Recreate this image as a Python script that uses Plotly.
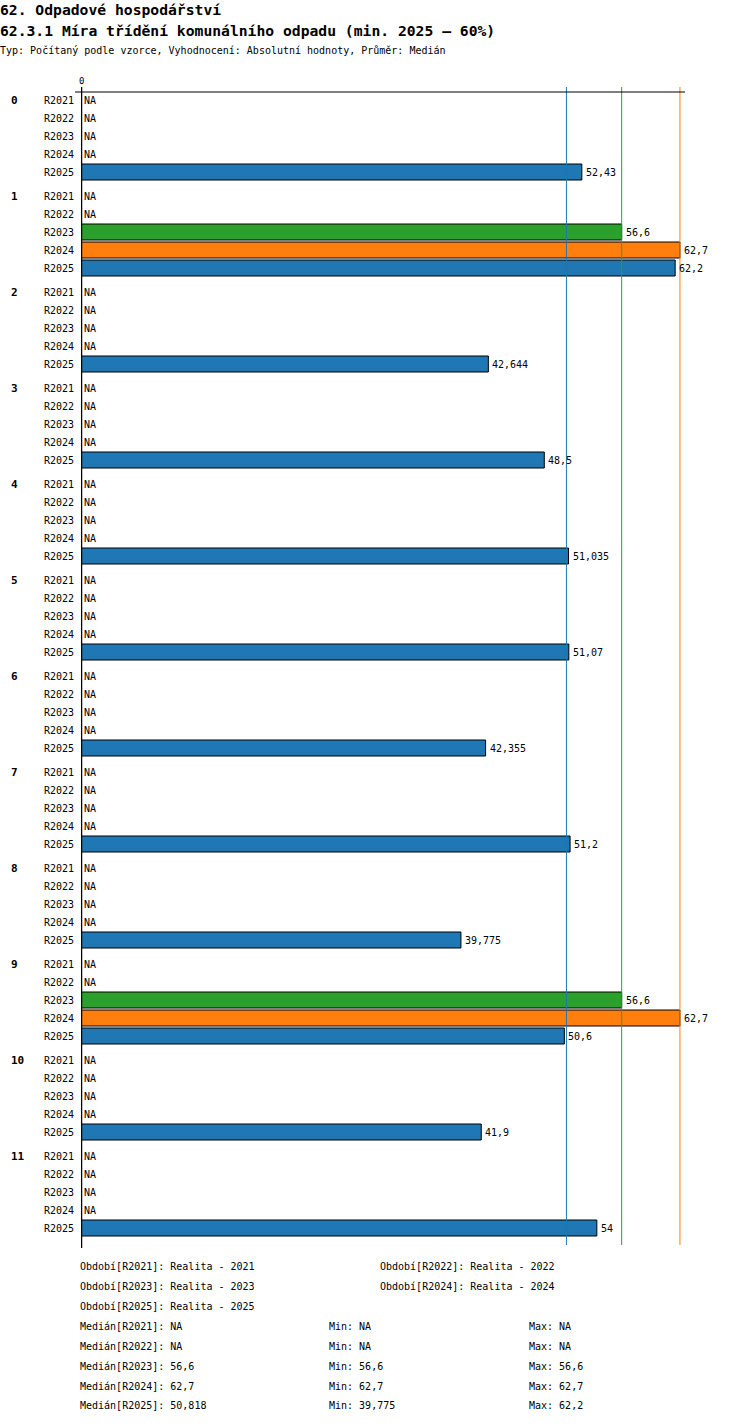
import numpy as np
import plotly.graph_objects as go

nan = float("nan")
groups = [str(i) for i in range(12)]
periods = ["R2021", "R2022", "R2023", "R2024", "R2025"]
period_names = ["Realita - 2021", "Realita - 2022", "Realita - 2023",
                "Realita - 2024", "Realita - 2025"]
colors = ["#1f77b4", "#1f77b4", "#2ca02c", "#ff7f0e", "#1f77b4"]

r2021 = [nan] * 12
r2022 = [nan] * 12
r2023 = [nan, 56.6, nan, nan, nan, nan, nan, nan, nan, 56.6, nan, nan]
r2024 = [nan, 62.7, nan, nan, nan, nan, nan, nan, nan, 62.7, nan, nan]
r2025 = [52.43, 62.2, 42.644, 48.5, 51.035, 51.07, 42.355, 51.2, 39.775, 50.6, 41.9, 54]
series = [r2021, r2022, r2023, r2024, r2025]

title1 = "62. Odpadové hospodářství"
title2 = "62.3.1 Míra třídění komunálního odpadu (min. 2025 – 60%)"
subtitle = "Typ: Počítaný podle vzorce, Vyhodnocení: Absolutní hodnoty, Průměr: Medián"

FONT = "DejaVu Sans Mono"
W, H = 750, 1424
L, T = 81, 92
PW, PH = 604, 1153
R, B = W - L - PW, H - T - PH
XMAX = 63.23


def fmt(v):
    if v is None or np.isnan(v):
        return "NA"
    s = f"{round(v + 1e-9, 3):g}"
    return s.replace(".", ",")


def xp(px):
    return (px - L) / PW


def yp(py):
    return (T + PH - py) / PH


def ypos(g, k):
    return 8 + 96 * g + 18 * k


fig = go.Figure()
annotations = []

for k, (per, vals, col) in enumerate(zip(periods, series, colors)):
    ys = [ypos(g, k) for g in range(len(groups))]
    fig.add_trace(go.Bar(
        x=vals, y=ys, orientation="h", width=16,
        marker=dict(color=col, line=dict(color="black", width=1)),
        name=per, showlegend=False, hoverinfo="skip",
    ))
    for g, v in enumerate(vals):
        y = ypos(g, k)
        annotations.append(dict(
            x=0 if np.isnan(v) else v, y=y, xref="x", yref="y",
            text=fmt(v), showarrow=False, xanchor="left", yanchor="middle",
            xshift=1 if np.isnan(v) else 2, font=dict(family=FONT, size=10, color="black"),
        ))
        annotations.append(dict(
            x=0, y=y, xref="paper", yref="y", text=per, showarrow=False,
            xanchor="right", yanchor="middle", xshift=-5,
            font=dict(family=FONT, size=10, color="black"),
        ))

for g, name in enumerate(groups):
    annotations.append(dict(
        x=xp(9), y=ypos(g, 0), xref="paper", yref="y", text=f"<b>{name}</b>",
        showarrow=False, xanchor="left", yanchor="middle",
        font=dict(family=FONT, size=11, color="black"),
    ))

# zero tick label
annotations.append(dict(x=0, y=1, xref="x", yref="paper", text="0", showarrow=False,
                        xanchor="center", yanchor="bottom", yshift=4,
                        font=dict(family=FONT, size=9, color="black")))

shapes = []
stats = []
for per, vals, col in zip(periods, series, colors):
    arr = np.array(vals, dtype=float)
    if np.all(np.isnan(arr)):
        stats.append((nan, nan, nan))
        continue
    med = float(np.nanmedian(arr))
    stats.append((med, float(np.nanmin(arr)), float(np.nanmax(arr))))
    shapes.append(dict(type="line", xref="x", yref="paper", x0=med, x1=med,
                       y0=0, y1=yp(87), line=dict(color=col, width=1)))

# axis lines
shapes.append(dict(type="line", xref="paper", yref="paper", x0=xp(75), x1=xp(685),
                   y0=1, y1=1, line=dict(color="black", width=1)))
shapes.append(dict(type="line", xref="x", yref="paper", x0=0, x1=0,
                   y0=yp(1248), y1=yp(87), line=dict(color="black", width=2.5)))

# titles
for txt, py, size in [(f"<b>{title1}</b>", 10, 14.7), (f"<b>{title2}</b>", 30, 14.7),
                      (subtitle, 50, 10)]:
    annotations.append(dict(x=xp(0), y=yp(py), xref="paper", yref="paper", text=txt,
                            showarrow=False, xanchor="left", yanchor="middle", xshift=-2,
                            font=dict(family=FONT, size=size, color="black")))

# legend / stats text
cols_x = [80, 380]
for i, (per, nm) in enumerate(zip(periods, period_names)):
    row, c = divmod(i, 2)
    annotations.append(dict(x=xp(cols_x[c]), y=yp(1266 + 20 * row), xref="paper", yref="paper",
                            text=f"Období[{per}]: {nm}", showarrow=False, xshift=-2,
                            xanchor="left", yanchor="middle",
                            font=dict(family=FONT, size=10, color="black")))
for i, (per, (md, mn, mx)) in enumerate(zip(periods, stats)):
    py = 1326 + 20 * i
    for px, txt in [(80, f"Medián[{per}]: {fmt(md)}"), (329, f"Min: {fmt(mn)}"),
                    (529, f"Max: {fmt(mx)}")]:
        annotations.append(dict(x=xp(px), y=yp(py), xref="paper", yref="paper",
                                text=txt, showarrow=False, xanchor="left", yanchor="middle",
                                xshift=-2, font=dict(family=FONT, size=10, color="black")))

fig.update_layout(
    width=W, height=H, margin=dict(l=L, r=R, t=T, b=B, pad=0),
    paper_bgcolor="white", plot_bgcolor="white",
    xaxis=dict(range=[0, XMAX], visible=False, fixedrange=True),
    yaxis=dict(range=[PH, 0], visible=False, fixedrange=True),
    barmode="overlay", hovermode=False,
    shapes=shapes, annotations=annotations,
    font=dict(family=FONT, size=10, color="black"),
)

fig.write_html("out.html", config={"displayModeBar": False},
               post_script="document.body.style.margin='0';document.body.style.overflow='hidden';")
